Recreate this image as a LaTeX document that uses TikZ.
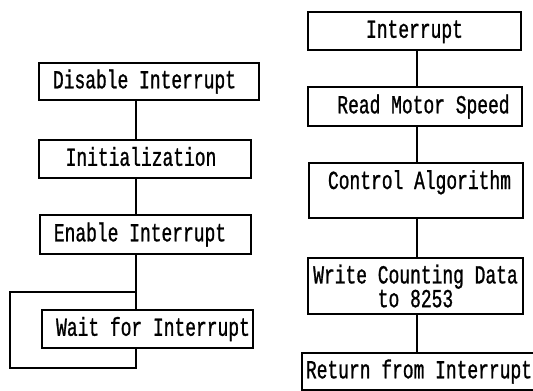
\documentclass[tikz,border=0pt]{standalone}
\usepackage{fontspec}
\newfontfamily\plotfont[FakeStretch=0.69,FakeBold=1]{Liberation Mono}
\begin{document}
\begin{tikzpicture}[x=1pt,y=-1pt,
  txt/.style={draw,line width=1.1pt,inner sep=0pt,
    font=\plotfont\fontsize{26}{18.4}\selectfont},
  blk/.style={txt,text height=13.6pt,text depth=0pt},
  lnk/.style={line width=1.1pt}]
\useasboundingbox (0,0) rectangle (533,391);
\clip (0,0) rectangle (533,391);

% main program
\node[blk,minimum width=220pt,minimum height=37pt] (dis)  at (149,81.5)  {Disable Interrupt\hspace*{9pt}};
\node[blk,minimum width=212pt,minimum height=38pt] (init) at (145,159)   {Initialization\hspace*{8pt}};
\node[blk,minimum width=211pt,minimum height=39pt] (en)   at (145.5,234.5) {Enable Interrupt\hspace*{11pt}};
\node[blk,minimum width=211pt,minimum height=38pt] (wait) at (147.5,329) {\hspace*{11pt}Wait for Interrupt};

\coordinate (lx) at (136,0);
\coordinate (lt) at (10,292); \coordinate (lb) at (10,368);
\draw[lnk] (lx |- dis.south) -- (lx |- init.north);
\draw[lnk] (lx |- init.south) -- (lx |- en.north);
\draw[lnk] (lx |- en.south) -- (lx |- wait.north);
\draw[lnk] (lx |- wait.south) -- (lx |- lb) -- (lb) -- (lt) -- (lx |- lt);

% interrupt routine
\node[blk,minimum width=213pt,minimum height=38pt] (intr) at (414.5,31)  {Interrupt};
\node[blk,minimum width=214pt,minimum height=39pt] (read) at (415,106.5) {\hspace*{17pt}Read Motor Speed};
\node[blk,minimum width=214pt,minimum height=55pt,text height=26pt,text depth=29pt] (ctrl) at (416,190.5) {\hspace*{7pt}Control Algorithm};
\node[txt,align=center,minimum width=215pt,minimum height=56pt] (wr) at (415.5,286) {Write Counting Data\\to 8253};
\node[blk,minimum width=234pt,minimum height=37pt] (ret)  at (419,371.5) {Return from Interrupt};

\coordinate (rx) at (417,0);
\draw[lnk] (rx |- intr.south) -- (rx |- read.north);
\draw[lnk] (rx |- read.south) -- (rx |- ctrl.north);
\draw[lnk] (rx |- ctrl.south) -- (rx |- wr.north);
\draw[lnk] (rx |- wr.south) -- (rx |- ret.north);

\end{tikzpicture}
\end{document}
